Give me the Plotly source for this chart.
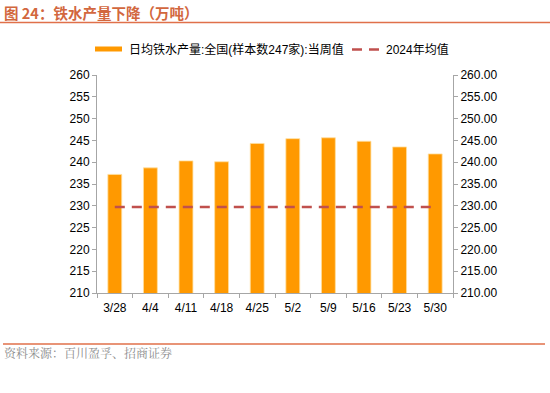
import plotly.graph_objects as go

categories = ["3/28", "4/4", "4/11", "4/18", "4/25", "5/2", "5/9", "5/16", "5/23", "5/30"]
weekly_output = [237.2, 238.7, 240.3, 240.1, 244.3, 245.4, 245.6, 244.8, 243.5, 241.9]
avg_2024 = [229.7] * len(categories)
y_ticks = [210, 215, 220, 225, 230, 235, 240, 245, 250, 255, 260]
bar_name = "日均铁水产量:全国(样本数247家):当周值"
line_name = "2024年均值"

W, H = 550, 393
L, R, T, B = 97, 97, 75, 100
PW, PH = W - L - R, H - T - B
FONT = "Arial, Liberation Sans, Noto Sans CJK SC, sans-serif"
BAR_COLOR = "#FF9900"
LINE_COLOR = "#C0504D"
RULE_COLOR = "#E0704A"


def px_x(x):
    return (x - L) / PW


def px_y(y):
    return 1 - (y - T) / PH


fig = go.Figure()
fig.add_trace(go.Bar(
    x=categories, y=weekly_output, name=bar_name,
    marker=dict(color=BAR_COLOR, line=dict(color="#FFE0A0", width=0.8)),
    width=0.39, showlegend=False,
))
fig.add_trace(go.Scatter(
    x=categories, y=avg_2024, name=line_name, mode="lines",
    line=dict(color=LINE_COLOR, width=2.5, dash="10px,7px"),
    yaxis="y2", showlegend=False,
))

axis_common = dict(
    range=[210, 260], tickvals=y_ticks, showgrid=False, zeroline=False,
    showline=True, linecolor="#A6A6A6", linewidth=1,
    ticks="outside", ticklen=4, tickcolor="#A6A6A6",
    tickfont=dict(size=12, color="#000000", family=FONT),
)

fig.update_layout(
    width=W, height=H,
    margin=dict(l=L, r=R, t=T, b=B, autoexpand=False),
    paper_bgcolor="white", plot_bgcolor="white",
    font=dict(family=FONT, color="#000000"),
    showlegend=False,
    xaxis=dict(
        showgrid=False, showline=True, linecolor="#A6A6A6", linewidth=1,
        ticks="outside", ticklen=4, tickcolor="#A6A6A6", tickson="boundaries",
        ticklabelstandoff=4,
        tickfont=dict(size=12, color="#000000", family=FONT),
    ),
    yaxis=dict(**axis_common),
    yaxis2=dict(**axis_common, overlaying="y", side="right", tickformat=".2f"),
)

# manual legend
fig.add_shape(type="rect", xref="paper", yref="paper",
              x0=px_x(95), x1=px_x(122), y0=px_y(46.5), y1=px_y(51.5),
              fillcolor=BAR_COLOR, line=dict(width=0))
fig.add_annotation(text=bar_name, xref="paper", yref="paper", x=px_x(127), xanchor="left",
                   y=px_y(49), yanchor="middle", showarrow=False,
                   font=dict(size=12, color="#000000", family=FONT))
fig.add_shape(type="line", xref="paper", yref="paper",
              x0=px_x(352), x1=px_x(379), y0=px_y(49.5), y1=px_y(49.5),
              line=dict(color=LINE_COLOR, width=2.5, dash="10px,7px"))
fig.add_annotation(text=line_name, xref="paper", yref="paper", x=px_x(384), xanchor="left",
                   y=px_y(49), yanchor="middle", showarrow=False,
                   font=dict(size=12, color="#000000", family=FONT))

# title, rules and source
fig.add_annotation(text="<b>图 24：铁水产量下降（万吨）</b>", xref="paper", yref="paper",
                   x=px_x(2), xanchor="left", y=px_y(12.5), yanchor="middle",
                   showarrow=False, font=dict(size=14.5, color="#D2673E", family="Noto Sans CJK SC"))
fig.add_shape(type="line", xref="paper", yref="paper",
              x0=px_x(0), x1=px_x(W), y0=px_y(22.5), y1=px_y(22.5),
              line=dict(color=RULE_COLOR, width=1.5))
fig.add_shape(type="line", xref="paper", yref="paper",
              x0=px_x(3), x1=px_x(545), y0=px_y(344), y1=px_y(344),
              line=dict(color=RULE_COLOR, width=1.5))
fig.add_annotation(text="资料来源：百川盈孚、招商证券", xref="paper", yref="paper",
                   x=px_x(2), xanchor="left", y=px_y(352), yanchor="middle",
                   showarrow=False, font=dict(size=12, color="#8C8C8C",
                                              family="Noto Serif CJK SC, Noto Sans CJK SC"))

fig.write_html("out.html", config={"displayModeBar": False},
               post_script="document.body.style.margin='0px';")
